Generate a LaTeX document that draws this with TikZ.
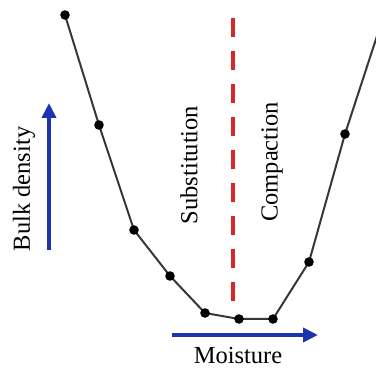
\documentclass[tikz,border=0pt]{standalone}
\usepackage{fontspec}
\setmainfont{Liberation Serif}
\usepackage{xcolor}
\usepackage{tikz}
\usetikzlibrary{arrows.meta}

\definecolor{arrowblue}{RGB}{28,52,176}
\definecolor{splitred}{RGB}{214,40,40}
\definecolor{curvegray}{RGB}{55,55,55}

\tikzset{
	trend/.style={arrowblue, line width=4, -{Triangle[length=15,width=14]}},
	curveline/.style={curvegray, line width=2},
	label/.style={inner sep=0pt, font=\fontsize{24.5}{29}\selectfont}
}

\begin{document}
\begin{tikzpicture}[x=1pt, y=-1pt]
	\useasboundingbox (0,0) rectangle (376,369);
	% measured points of the curve
	\coordinate (p1) at (65,15);
	\coordinate (p2) at (99,125);
	\coordinate (p3) at (134,230);
	\coordinate (p4) at (170,276);
	\coordinate (p5) at (205,313);
	\coordinate (p6) at (239,319);
	\coordinate (p7) at (273,319);
	\coordinate (p8) at (309,262);
	\coordinate (p9) at (345,134);
	\coordinate (p10) at (377,36);
	% dividing line
	\coordinate (top) at (233,18);
	\coordinate (bottom) at (233,305);
	\draw[splitred, line width=4, dash pattern=on 19 off 14] (top) -- (bottom);
	\draw[curveline] (p1) -- (p2) -- (p3) -- (p4) -- (p5) -- (p6) -- (p7) -- (p8) -- (p9) -- (p10);
	\foreach \i in {1,...,9}
		\fill (p\i) circle (4.8);
	% axes arrows
	\coordinate (up0) at (49,250);
	\coordinate (up1) at (49,103);
	\coordinate (rt0) at (172,335);
	\coordinate (rt1) at (318,335);
	\draw[trend] (up0) -- (up1);
	\draw[trend] (rt0) -- (rt1);
	\node[label, rotate=90] (bulk) at (24,189) {Bulk density};
	\node[label, rotate=90] (subst) at (189,165) {Substitution};
	\node[label, rotate=90] (compact) at (272,162) {Compaction};
	\node[label, anchor=base] (moist) at (238,364) {Moisture};
\end{tikzpicture}
\end{document}
